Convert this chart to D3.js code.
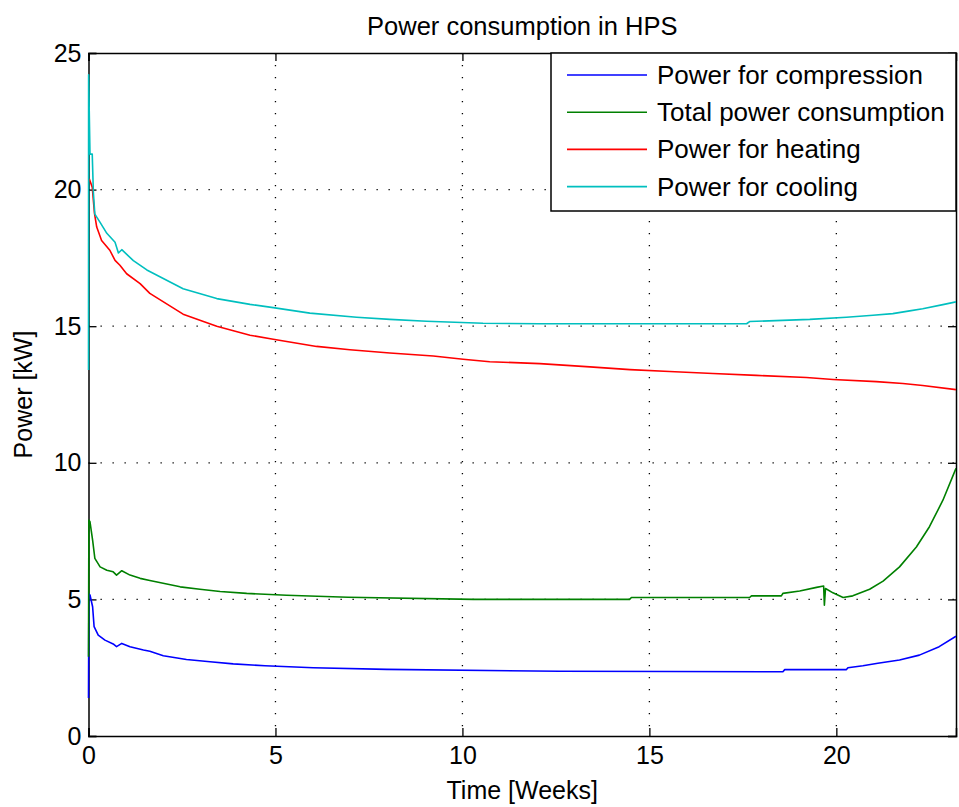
<!DOCTYPE html>
<html>
<head>
<meta charset="utf-8">
<script src="https://cdn.jsdelivr.net/npm/d3@7"></script>
<style>
  body { margin: 0; background: #fff; }
  text { font-family: "Liberation Sans", Arial, sans-serif; fill: #000; }
</style>
</head>
<body>
<div id="chart"></div>
<script>
//Width and height
var w = 959;
var h = 807;

//Plot box (not "top": that name is taken by window.top)
var boxLeft = 88.5, boxRight = 956, boxTop = 53, boxBottom = 736;

//Series names and colours
var seriesNames = ["Power for compression", "Total power consumption", "Power for heating", "Power for cooling"];
var seriesColors = ["#0000ff", "#008000", "#ff0000", "#00bfbf"];

//Tick values
var xTicks = [0, 5, 10, 15, 20];
var yTicks = [0, 5, 10, 15, 20, 25];

//Data: [week, kW]
var compression = [
  [0, 1.39], [0.01, 5.2], [0.04, 5.16], [0.11, 4.73], [0.15, 4.0], [0.26, 3.69], [0.44, 3.51],
  [0.66, 3.37], [0.75, 3.27], [0.89, 3.39], [1.11, 3.27], [1.47, 3.15], [1.64, 3.1], [2.0, 2.94],
  [2.62, 2.8], [3.25, 2.72], [3.87, 2.64], [4.72, 2.57], [6.01, 2.5], [7.97, 2.44], [12.6, 2.37],
  [15.54, 2.36], [18.57, 2.35], [18.62, 2.43], [20.27, 2.43], [20.31, 2.5], [20.71, 2.57],
  [21.11, 2.66], [21.69, 2.78], [22.22, 2.96], [22.75, 3.27], [23.2, 3.65]
];
var total = [
  [0, 2.9], [0.01, 7.9], [0.04, 7.84], [0.11, 7.17], [0.17, 6.5], [0.31, 6.19], [0.49, 6.07],
  [0.66, 6.01], [0.75, 5.89], [0.89, 6.05], [1.11, 5.89], [1.38, 5.77], [1.64, 5.69], [2.45, 5.46],
  [2.98, 5.37], [3.52, 5.29], [4.23, 5.22], [5.3, 5.15], [6.94, 5.08], [10.29, 5.0], [14.47, 5.0],
  [14.52, 5.07], [17.68, 5.07], [17.73, 5.13], [18.53, 5.13], [18.57, 5.22], [19.02, 5.31],
  [19.47, 5.44], [19.66, 5.49], [19.68, 4.79], [19.71, 5.4], [19.91, 5.24], [20.18, 5.07],
  [20.44, 5.13], [20.89, 5.37], [21.25, 5.67], [21.69, 6.19], [22.14, 6.92], [22.49, 7.66],
  [22.85, 8.63], [23.2, 9.8]
];
var heating = [
  [0.02, 20.4], [0.1, 20.09], [0.16, 19.13], [0.22, 18.63], [0.35, 18.14], [0.57, 17.78],
  [0.71, 17.41], [0.84, 17.23], [1.02, 16.92], [1.38, 16.56], [1.64, 16.2], [2.53, 15.44],
  [3.43, 15.0], [4.32, 14.67], [4.94, 14.52], [6.1, 14.26], [6.99, 14.14], [8.06, 14.02],
  [9.22, 13.91], [10.02, 13.79], [10.73, 13.7], [12.07, 13.63], [13.41, 13.51], [14.48, 13.41],
  [15.54, 13.34], [16.7, 13.27], [17.86, 13.2], [19.2, 13.12], [19.91, 13.05], [21.07, 12.97],
  [21.78, 12.9], [22.31, 12.83], [23.2, 12.68]
];
var cooling = [
  [0, 13.4], [0.003, 24.2], [0.04, 21.3], [0.1, 21.3], [0.13, 19.9], [0.17, 19.1], [0.31, 18.8],
  [0.49, 18.4], [0.71, 18.07], [0.8, 17.68], [0.89, 17.8], [1.2, 17.4], [1.56, 17.06],
  [2.53, 16.37], [3.43, 16.01], [4.32, 15.8], [4.94, 15.68], [5.92, 15.48], [7.17, 15.33],
  [8.06, 15.25], [9.04, 15.18], [10.55, 15.11], [12.07, 15.09], [17.6, 15.09], [17.68, 15.17],
  [19.29, 15.25], [20.27, 15.33], [20.98, 15.4], [21.51, 15.46], [21.96, 15.56], [22.31, 15.64],
  [22.85, 15.79], [23.2, 15.89]
];
var allSeries = [compression, total, heating, cooling];

//Scales
var x = d3.scaleLinear().domain([0, 23.2]).range([boxLeft, boxRight]);
var y = d3.scaleLinear().domain([0, 25]).range([boxBottom, boxTop]);

//Create SVG element
var svg = d3.select("#chart")
            .append("svg")
            .attr("width", w)
            .attr("height", h);

//Clip a little wider than the box so lines on the axis stay visible
svg.append("clipPath").attr("id", "clip")
   .append("rect")
   .attr("x", boxLeft - 2).attr("y", boxTop)
   .attr("width", boxRight - boxLeft + 2).attr("height", boxBottom - boxTop);

//Dotted grid
var grid = svg.append("g");
grid.selectAll("line.gx")
    .data(xTicks.slice(1))
    .enter().append("line")
    .attr("class", "gx")
    .attr("x1", function(d) { return x(d); })
    .attr("x2", function(d) { return x(d); })
    .attr("y1", boxTop).attr("y2", boxBottom);
grid.selectAll("line.gy")
    .data(yTicks.slice(1, -1))
    .enter().append("line")
    .attr("class", "gy")
    .attr("y1", function(d) { return y(d); })
    .attr("y2", function(d) { return y(d); })
    .attr("x1", boxLeft).attr("x2", boxRight);
grid.selectAll("line")
    .attr("stroke", "#000")
    .attr("stroke-width", 1.3)
    .attr("stroke-dasharray", "1.3,10.7");

//Axes (ticks inside, mirrored on all sides)
var tickLen = 8;
svg.append("g")
   .attr("transform", "translate(0," + boxBottom + ")")
   .call(d3.axisBottom(x).tickValues(xTicks).tickSize(-tickLen).tickPadding(10));
svg.append("g")
   .attr("transform", "translate(0," + boxTop + ")")
   .call(d3.axisTop(x).tickValues(xTicks).tickSize(-tickLen).tickFormat(""));
svg.append("g")
   .attr("transform", "translate(" + boxLeft + ",0)")
   .call(d3.axisLeft(y).tickValues(yTicks).tickSize(-tickLen).tickPadding(7));
svg.append("g")
   .attr("transform", "translate(" + boxRight + ",0)")
   .call(d3.axisRight(y).tickValues(yTicks).tickSize(-tickLen).tickFormat(""));

svg.selectAll(".domain").attr("stroke", "#000").attr("stroke-width", 1.5);
svg.selectAll(".tick line").attr("stroke", "#000").attr("stroke-width", 1.3);
svg.selectAll(".tick text")
   .style("font-family", "'Liberation Sans', Arial, sans-serif")
   .style("font-size", "25px")
   .attr("fill", "#000");

//Lines, drawn over the axes as in the reference
var line = d3.line()
             .x(function(d) { return x(d[0]); })
             .y(function(d) { return y(d[1]); });

svg.append("g")
   .attr("clip-path", "url(#clip)")
   .selectAll("path")
   .data(allSeries)
   .enter()
   .append("path")
   .attr("d", line)
   .attr("fill", "none")
   .attr("stroke", function(d, i) { return seriesColors[i]; })
   .attr("stroke-width", 1.6)
   .attr("stroke-linejoin", "round");

//Title and axis labels
svg.append("text")
   .attr("x", (boxLeft + boxRight) / 2)
   .attr("y", 35)
   .attr("text-anchor", "middle")
   .style("font-size", "25.5px")
   .text("Power consumption in HPS");

svg.append("text")
   .attr("x", (boxLeft + boxRight) / 2)
   .attr("y", 799)
   .attr("text-anchor", "middle")
   .style("font-size", "25px")
   .text("Time [Weeks]");

svg.append("text")
   .attr("transform", "translate(32," + ((boxTop + boxBottom) / 2) + ") rotate(-90)")
   .attr("text-anchor", "middle")
   .style("font-size", "25px")
   .text("Power [kW]");

//Legend
var legend = svg.append("g");
legend.append("rect")
      .attr("x", 551).attr("y", boxTop)
      .attr("width", boxRight - 551).attr("height", 211 - boxTop)
      .attr("fill", "#fff")
      .attr("stroke", "#000")
      .attr("stroke-width", 1.5);

var rows = legend.selectAll("g.row")
                 .data(seriesNames)
                 .enter()
                 .append("g")
                 .attr("class", "row")
                 .attr("transform", function(d, i) { return "translate(0," + (75 + i * 37.2) + ")"; });
rows.append("line")
    .attr("x1", 567).attr("x2", 647)
    .attr("y1", 0).attr("y2", 0)
    .attr("stroke", function(d, i) { return seriesColors[i]; })
    .attr("stroke-width", 1.6);
rows.append("text")
    .attr("x", 657)
    .attr("y", 9)
    .style("font-size", "26px")
    .text(function(d) { return d; });
</script>
</body>
</html>
